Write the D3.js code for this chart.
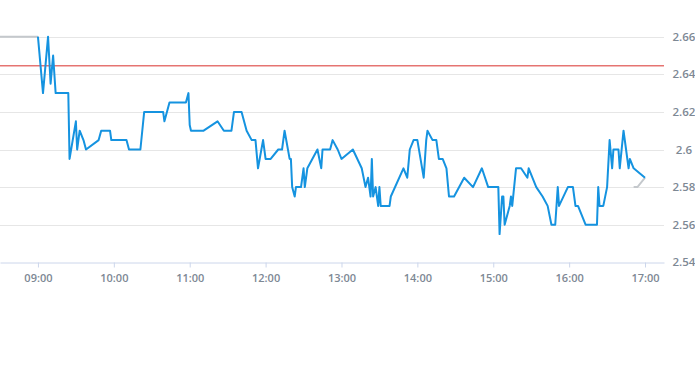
<!DOCTYPE html>
<html>
<head>
<meta charset="utf-8">
<script src="https://cdn.jsdelivr.net/npm/d3@7"></script>
<style>
  body { margin: 0; background: #fff; }
  text { font-family: "Open Sans", sans-serif; }
</style>
</head>
<body>
<div id="chart"></div>
<script>
// intraday price
const times = ["09:00","09:04","09:08","09:10","09:12","09:14","09:24","09:25","09:30","09:31",
  "09:33","09:36","09:38","09:48","09:50","09:57","09:58","10:10","10:12","10:21",
  "10:24","10:39","10:40","10:44","10:57","10:59","11:00","11:01","11:11","11:22",
  "11:27","11:33","11:35","11:41","11:45","11:49","11:52","11:54","11:58","12:00",
  "12:04","12:10","12:13","12:15","12:19","12:20","12:21","12:23","12:24","12:28",
  "12:30","12:31","12:33","12:41","12:44","12:45","12:51","12:53","12:57","13:00",
  "13:09","13:16","13:19","13:21","13:23","13:24","13:25","13:27","13:28","13:29",
  "13:30","13:31","13:38","13:39","13:49","13:52","13:54","13:57","14:00","14:05",
  "14:07","14:08","14:12","14:15","14:17","14:20","14:23","14:25","14:29","14:37",
  "14:44","14:51","14:56","15:04","15:05","15:07","15:08","15:09","15:13","15:14",
  "15:15","15:18","15:22","15:27","15:28","15:34","15:39","15:43","15:46","15:49",
  "15:51","15:52","15:59","16:03","16:05","16:07","16:13","16:22","16:23","16:24",
  "16:27","16:30","16:32","16:34","16:35","16:39","16:40","16:43","16:45","16:47",
  "16:48","16:51","17:00"];
const prices = [2.66,2.63,2.66,2.635,2.65,2.63,2.63,2.595,2.615,2.60,
  2.61,2.605,2.60,2.605,2.61,2.61,2.605,2.605,2.60,2.60,
  2.62,2.62,2.615,2.625,2.625,2.63,2.613,2.61,2.61,2.615,
  2.61,2.61,2.62,2.62,2.61,2.605,2.605,2.59,2.605,2.595,
  2.595,2.60,2.60,2.61,2.595,2.595,2.58,2.575,2.58,2.58,
  2.59,2.58,2.59,2.60,2.59,2.60,2.60,2.605,2.60,2.595,
  2.60,2.59,2.58,2.585,2.575,2.595,2.575,2.58,2.575,2.57,
  2.58,2.57,2.57,2.575,2.59,2.585,2.60,2.605,2.605,2.585,
  2.605,2.61,2.605,2.605,2.595,2.595,2.59,2.575,2.575,2.585,
  2.58,2.59,2.58,2.58,2.555,2.575,2.575,2.56,2.57,2.575,
  2.57,2.59,2.59,2.585,2.59,2.58,2.575,2.57,2.56,2.56,
  2.58,2.57,2.58,2.58,2.57,2.57,2.56,2.56,2.58,2.57,
  2.57,2.58,2.605,2.59,2.60,2.60,2.59,2.61,2.60,2.59,
  2.595,2.59,2.585];

// grey pre-open and closing segments
const preTimes = ["08:30","09:00"];
const prePrices = [2.66,2.66];
const postTimes = ["16:51","16:54","17:00"];
const postPrices = [2.58,2.58,2.585];

const prevClose = 2.6445;
const yTicks = [2.54,2.56,2.58,2.6,2.62,2.64,2.66];
const xTicks = ["09:00","10:00","11:00","12:00","13:00","14:00","15:00","16:00","17:00"];

const svgWidth = 695;
const svgHeight = 370;
const plotW = 664;   // plot area starts at x = 0
const plotTop = 36.7;
const plotBottom = 262.3;

const parse = d3.timeParse("%H:%M");

const svg = d3.select("#chart")
  .append("svg")
  .attr("width", svgWidth)
  .attr("height", svgHeight);

const x = d3.scaleTime()
  .domain([parse("08:30"), parse("17:15")])
  .range([0, plotW]);

const y = d3.scaleLinear()
  .domain([2.54, 2.66])
  .range([plotBottom, plotTop]);

// horizontal grid
svg.append("g")
  .selectAll("line")
  .data(yTicks.slice(1))
  .join("line")
  .attr("x1", 0)
  .attr("x2", plotW)
  .attr("y1", d => Math.round(y(d)) + 0.5)
  .attr("y2", d => Math.round(y(d)) + 0.5)
  .attr("stroke", "#e6e6e6")
  .attr("stroke-width", 1);

// y labels on the right
svg.append("g")
  .selectAll("text")
  .data(yTicks)
  .join("text")
  .attr("x", 684)
  .attr("y", d => y(d) + 4)
  .attr("text-anchor", "middle")
  .attr("font-size", 11.5)
  .attr("font-weight", 600)
  .attr("fill", "#7d8894")
  .text(d => d3.format("")(+d.toFixed(2)));

// x axis
const xAxis = d3.axisBottom(x)
  .tickValues(xTicks.map(parse))
  .tickFormat(d3.timeFormat("%H:%M"))
  .tickSize(5)
  .tickSizeOuter(0);

const gx = svg.append("g")
  .attr("transform", `translate(0, ${Math.round(plotBottom) + 0.5})`)
  .call(xAxis);
gx.select(".domain").attr("stroke", "#ccd6eb");
gx.selectAll(".tick line").attr("stroke", "#ccd6eb");
gx.selectAll(".tick text")
  .attr("dy", 0)
  .attr("y", 19)
  .attr("font-family", "Open Sans, sans-serif")
  .attr("font-size", 11)
  .attr("font-weight", 600)
  .attr("fill", "#7d8894");

// previous close line
svg.append("line")
  .attr("x1", 0)
  .attr("x2", plotW)
  .attr("y1", y(prevClose))
  .attr("y2", y(prevClose))
  .attr("stroke", "#d9302c")
  .attr("stroke-width", 1);

const line = d3.line()
  .x(d => x(parse(d[0])))
  .y(d => y(d[1]));

svg.append("path")
  .datum(d3.zip(preTimes, prePrices))
  .attr("d", line)
  .attr("fill", "none")
  .attr("stroke", "#c4c8cc")
  .attr("stroke-width", 2);

svg.append("path")
  .datum(d3.zip(postTimes, postPrices))
  .attr("d", line)
  .attr("fill", "none")
  .attr("stroke", "#c4c8cc")
  .attr("stroke-width", 2);

svg.append("path")
  .datum(d3.zip(times, prices))
  .attr("d", line)
  .attr("fill", "none")
  .attr("stroke", "#1593e0")
  .attr("stroke-width", 2)
  .attr("stroke-linejoin", "round");
</script>
</body>
</html>
